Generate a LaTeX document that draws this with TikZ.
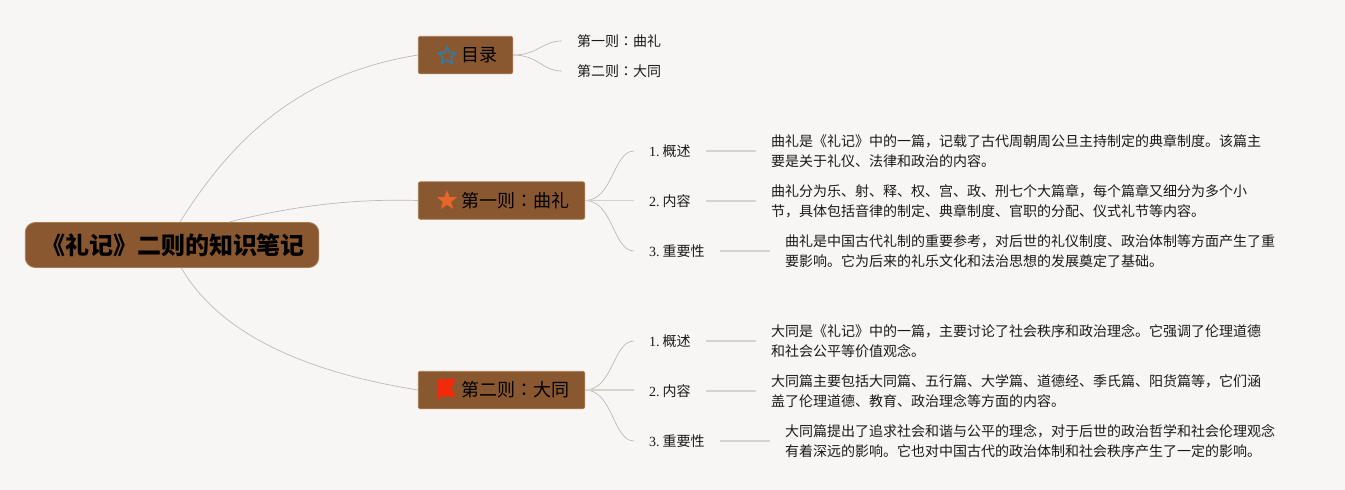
\documentclass[tikz,border=0pt]{standalone}
\usepackage{fontspec}
\setmainfont{Liberation Serif}
\newfontfamily\cjk{Noto Sans CJK SC}
\newfontfamily\cjktc{Noto Sans CJK TC}
\usetikzlibrary{shapes.geometric}
\definecolor{bgc}{HTML}{F8F6F4}
\definecolor{boxc}{HTML}{8A5830}
\definecolor{boxe}{HTML}{A87C52}
\definecolor{linec}{HTML}{BDBAB6}
\definecolor{linel}{HTML}{D6D3CF}
\definecolor{txt}{HTML}{1A1A1A}
\definecolor{flagc}{HTML}{F02A0A}
\definecolor{starblue}{HTML}{2E7DA5}
\definecolor{starorange}{HTML}{E8642D}
\tikzset{
  x=1pt,y=-1pt,
  rootbox/.style={draw=boxe,line width=.8pt,fill=boxc,rounded corners=10pt,minimum width=293.5pt,minimum height=45pt,inner sep=0pt,font=\cjk\fontsize{24}{28}\selectfont\bfseries,text=black},
  secbox/.style={draw=boxe,line width=.6pt,fill=boxc,rounded corners=2pt,minimum height=37.5pt,inner sep=0pt,font=\cjk\fontsize{18}{22}\selectfont,text=black},
  sublabel/.style={inner sep=0pt,anchor=west,text=txt,font=\fontsize{14}{17}\selectfont},
  tocchild/.style={sublabel,font=\cjk\fontsize{14}{17}\selectfont},
  detail/.style={inner sep=0pt,anchor=west,align=left,text=txt,font=\cjk\fontsize{14}{20}\selectfont},
  thin link/.style={draw=linec,line width=.7pt},
  gap link/.style={draw=linel,line width=1.3pt,shorten <=15pt,shorten >=15pt},
  fork link/.style={draw=linec,line width=.7pt,shorten >=15pt},
}
\newcommand{\zh}[1]{{\cjk #1}}
\newcommand{\zhcolon}{{\cjktc ：}}
\begin{document}
\begin{tikzpicture}
\useasboundingbox (0,0) rectangle (1345,490);
\fill[bgc] (0,0) rectangle (1345,490);
% nodes
\node[rootbox] (root) at (172,245) {\hspace*{2pt}《礼记》二则的知识笔记};
\node[secbox,minimum width=94.5pt] (toc) at (465.5,55) {\hspace*{27pt}目录};
\node[secbox,minimum width=166.5pt] (secA) at (501.5,200.5) {\hspace*{27pt}第一则\zhcolon 曲礼};
\node[secbox,minimum width=166.5pt] (secB) at (501.5,390) {\hspace*{27pt}第二则\zhcolon 大同};
% icons
\node[star,star points=5,star point ratio=2.1,draw=starblue,line width=1.6pt,inner sep=0pt,minimum size=18pt] (iconA) at (447,56) {};
\node[star,star points=5,star point ratio=2.4,fill=starorange,inner sep=0pt,minimum size=21pt] (iconB) at (447,200.5) {};
\fill[flagc] (437,379.5) -- (456,378.5) -- (451.5,388) -- (456,396.5) -- (439,396.5) -- (439,400) -- (437,400) -- cycle;
% toc children
\node[tocchild] (t1) at (577,41) {第一则\zhcolon 曲礼};
\node[tocchild] (t2) at (577,71) {第二则\zhcolon 大同};
% section A
\node[sublabel] (a1) at (649,151) {1.\hspace{3pt}\zh{概述}};
\node[sublabel] (a2) at (649,201) {2.\hspace{3pt}\zh{内容}};
\node[sublabel] (a3) at (649,251) {3.\hspace{3pt}\zh{重要性}};
\node[detail] (da1) at (771,151) {曲礼是《礼记》中的一篇，记载了古代周朝周公旦主持制定的典章制度。该篇主\\要是关于礼仪、法律和政治的内容。};
\node[detail] (da2) at (771,201) {曲礼分为乐、射、释、权、宫、政、刑七个大篇章，每个篇章又细分为多个小\\节，具体包括音律的制定、典章制度、官职的分配、仪式礼节等内容。};
\node[detail] (da3) at (785,251) {曲礼是中国古代礼制的重要参考，对后世的礼仪制度、政治体制等方面产生了重\\要影响。它为后来的礼乐文化和法治思想的发展奠定了基础。};
% section B
\node[sublabel] (b1) at (649,341) {1.\hspace{3pt}\zh{概述}};
\node[sublabel] (b2) at (649,391) {2.\hspace{3pt}\zh{内容}};
\node[sublabel] (b3) at (649,441) {3.\hspace{3pt}\zh{重要性}};
\node[detail] (db1) at (771,341) {大同是《礼记》中的一篇，主要讨论了社会秩序和政治理念。它强调了伦理道德\\和社会公平等价值观念。};
\node[detail] (db2) at (771,391) {大同篇主要包括大同篇、五行篇、大学篇、道德经、季氏篇、阳货篇等，它们涵\\盖了伦理道德、教育、政治理念等方面的内容。};
\node[detail] (db3) at (785,441) {大同篇提出了追求社会和谐与公平的理念，对于后世的政治哲学和社会伦理观念\\有着深远的影响。它也对中国古代的政治体制和社会秩序产生了一定的影响。};
% root links
\draw[thin link] (root.71) .. controls +(59,-94) and +(-110,18) .. (toc.west);
\draw[thin link] (root.22) .. controls +(60,-15) and +(-70,-2) .. (secA.west);
\draw[thin link] (root.-68) .. controls +(42,72) and +(-100,-16) .. (secB.west);
% forks
\foreach \p/\c in {secA/a1,secB/b1,secA/a3,secB/b3}{
  \draw[fork link] (\p.east) .. controls +(28,0) and +(-36,0) .. (\c.west);
}
\foreach \p/\c in {secA/a2,secB/b2}{
  \draw[gap link,shorten <=0pt] (\p.east) -- (\p.east -| \c.west);
}
\draw[fork link] (toc.east) .. controls +(25,0) and +(-35,0) .. (t1.west);
\draw[fork link] (toc.east) .. controls +(25,0) and +(-35,0) .. (t2.west);
% label to detail
\foreach \c/\d in {a1/da1,a2/da2,a3/da3,b1/db1,b2/db2,b3/db3}{
  \draw[gap link] (\c.east) -- (\c.east -| \d.west);
}
\end{tikzpicture}
\end{document}
